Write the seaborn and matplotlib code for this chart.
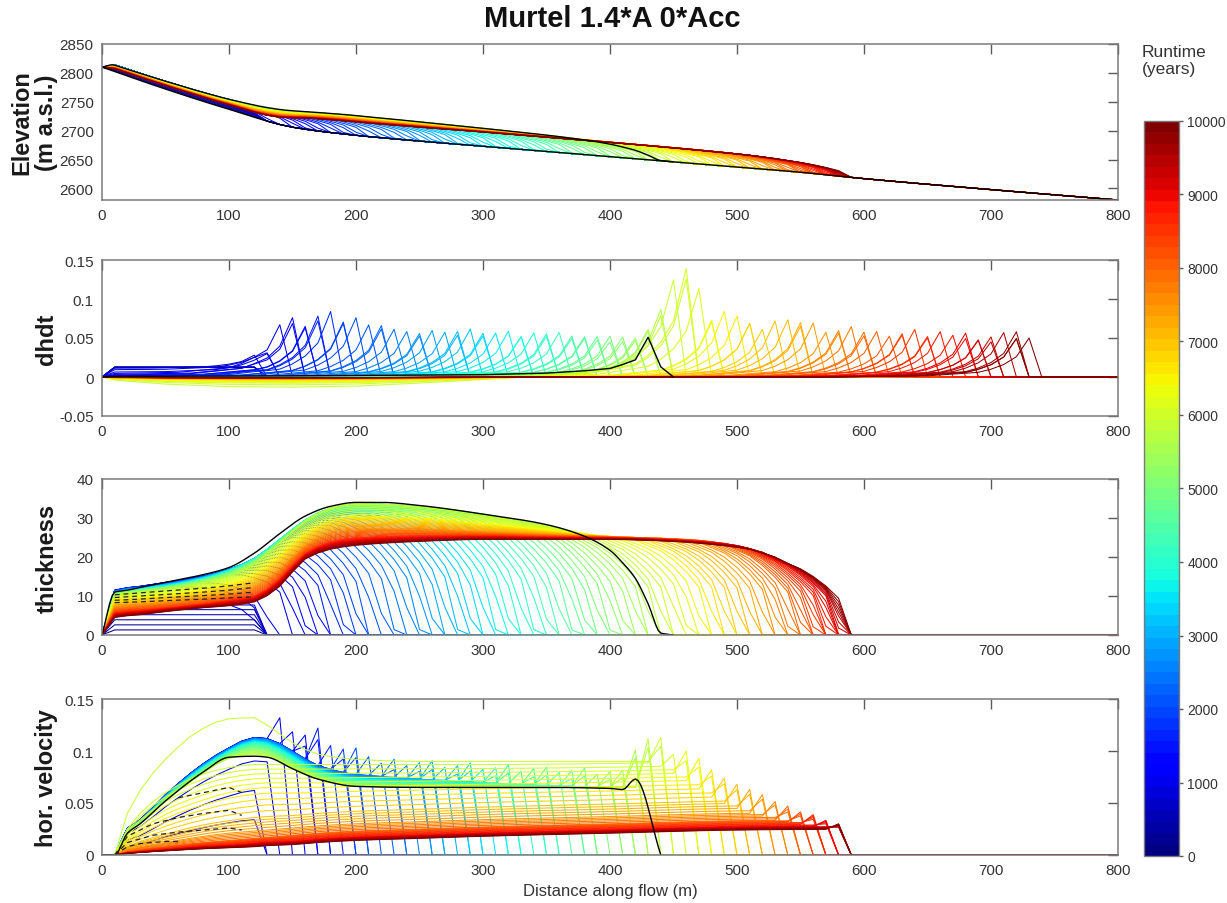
import numpy as np
import pandas as pd
import matplotlib
matplotlib.use("Agg")
import matplotlib.pyplot as plt
import seaborn as sns
from matplotlib.colors import Normalize
from matplotlib.cm import ScalarMappable

# ----------------------------------------------------------------------
# Model grid (10 m spacing) and the 100 output times of the run
# ----------------------------------------------------------------------
x_nodes = np.arange(0, 801, 10)
run_times = np.arange(100, 10001, 100)

# Bedrock profile
bed_x = [0, 50, 100, 150, 200, 250, 300, 350, 400, 450, 500, 550, 600, 700, 800]
bed_z = [2810, 2772, 2737, 2706, 2692, 2682, 2673, 2664, 2655, 2646, 2637, 2628, 2617, 2598, 2580]

# Initial build-up below the rock wall (no flow yet)
stack_times = [100, 200, 300, 400, 500, 600]
stack_thickness = [1.3, 2.6, 3.9, 5.2, 6.5, 7.7]

# Thickness behind the front at selected runtimes
thk_x = [0, 10, 30, 50, 80, 100, 120, 140, 160, 180, 200, 250, 300, 350, 400, 450, 500, 550, 600]
thk_times = [700, 800, 1000, 2000, 3000, 4000, 5000, 5800, 6500, 7500, 8500, 10000]
thk_700 = [0, 9.0, 9.3, 9.6, 10.0, 10.4, 11.0, 12.0, 14.0, 16.0, 18.0, 20.0, 22.0, 23.0, 23.5, 23.5, 23.5, 23.0, 23.0]
thk_800 = [0, 10.5, 11.2, 12.0, 13.2, 14.2, 15.5, 17.0, 19.5, 21.5, 23.0, 24.0, 24.5, 24.5, 24.5, 24.5, 24.5, 24.0, 24.0]
thk_1000 = [0, 11.5, 12.5, 13.5, 15.2, 16.8, 18.8, 22.0, 23.0, 23.5, 24.0, 24.5, 24.5, 24.5, 24.5, 24.5, 24.5, 24.0, 24.0]
thk_2000 = [0, 11.3, 12.3, 13.2, 15.0, 16.9, 19.3, 24.0, 27.0, 28.0, 27.5, 26.0, 25.0, 24.5, 24.5, 24.5, 24.5, 24.0, 24.0]
thk_3000 = [0, 11.0, 12.0, 12.9, 14.8, 16.8, 19.7, 24.5, 29.0, 31.0, 31.0, 29.5, 27.0, 25.5, 24.5, 24.5, 24.5, 24.0, 24.0]
thk_4000 = [0, 10.7, 11.7, 12.5, 14.4, 16.4, 19.5, 24.5, 29.5, 32.5, 33.0, 32.0, 29.5, 26.5, 24.5, 24.5, 24.5, 24.0, 24.0]
thk_5000 = [0, 10.5, 11.4, 12.2, 14.0, 15.8, 19.0, 24.0, 29.3, 32.5, 33.7, 33.0, 31.0, 28.0, 25.0, 24.5, 24.5, 24.0, 24.0]
thk_5800 = [0, 10.3, 11.0, 11.7, 13.3, 14.9, 18.0, 23.5, 29.0, 32.5, 33.6, 32.8, 30.7, 28.0, 25.5, 24.5, 24.5, 24.0, 24.0]
thk_6500 = [0, 9.0, 9.6, 10.2, 11.6, 13.0, 15.5, 20.5, 26.0, 29.5, 30.5, 30.0, 28.5, 26.8, 25.3, 24.7, 24.5, 24.0, 24.0]
thk_7500 = [0, 7.2, 7.8, 8.4, 9.6, 10.6, 12.5, 17.0, 23.0, 26.5, 27.5, 27.3, 26.5, 25.8, 25.2, 24.7, 24.0, 22.5, 22.0]
thk_8500 = [0, 5.8, 6.4, 7.0, 8.0, 9.0, 10.0, 14.5, 21.0, 24.0, 25.0, 25.5, 25.5, 25.2, 25.0, 24.5, 23.3, 21.0, 20.5]
thk_10000 = [0, 4.5, 5.2, 6.0, 7.0, 7.5, 8.5, 12.5, 19.5, 22.0, 23.0, 24.0, 24.5, 24.5, 24.5, 24.0, 22.5, 19.5, 18.5]

# Front position (end of ice) through time
front_times = [600, 700, 800, 900, 1000, 1500, 2000, 2500, 3000, 3500, 4000, 4500,
               5000, 5500, 6000, 6500, 7000, 7500, 8000, 8500, 9000, 9500, 10000]
front_pos = [126, 127, 129, 135, 150, 180, 210, 245, 275, 305, 335, 365,
             395, 425, 450, 480, 505, 530, 550, 565, 577, 585, 590]
# Fraction of full thickness vs. distance behind the front
taper_dist = [0, 10, 20, 30, 40, 60, 80]
taper_frac = [0, 0.5, 0.66, 0.78, 0.87, 0.97, 1.0]

# Horizontal velocity at selected runtimes
vel_x = [0, 10, 20, 30, 50, 80, 100, 120, 130, 150, 170, 200, 250, 300, 400, 500, 600]
vel_times = [1000, 2500, 4000, 5000, 5800, 5900, 6000, 6500, 7000, 7500, 8000, 9000, 10000]
vel_1000 = [0, 0, .026, .034, .058, .088, .103, .113, .112, .100, .087, .079, .076, .075, .073, .072, .072]
vel_2500 = [0, 0, .025, .033, .057, .087, .102, .112, .111, .099, .085, .077, .074, .073, .071, .071, .071]
vel_4000 = [0, 0, .024, .032, .055, .084, .099, .108, .106, .093, .080, .072, .070, .069, .068, .068, .068]
vel_5000 = [0, 0, .023, .031, .054, .081, .096, .103, .101, .088, .076, .068, .067, .066, .066, .066, .066]
vel_5800 = [0, 0, .021, .030, .052, .079, .093, .097, .095, .083, .073, .066, .065, .065, .065, .065, .065]
vel_5900 = [0, 0, .040, .062, .092, .122, .131, .132, .125, .108, .097, .092, .090, .090, .090, .090, .090]
vel_6000 = [0, 0, .025, .040, .060, .078, .084, .087, .087, .087, .087, .087, .087, .087, .088, .090, .090]
vel_6500 = [0, 0, .015, .024, .039, .053, .060, .064, .065, .065, .065, .066, .067, .068, .070, .072, .072]
vel_7000 = [0, 0, .008, .013, .020, .029, .033, .036, .037, .038, .040, .042, .044, .046, .049, .052, .053]
vel_7500 = [0, 0, .005, .008, .012, .018, .021, .023, .024, .026, .028, .030, .032, .034, .037, .040, .041]
vel_8000 = [0, 0, .003, .005, .008, .012, .014, .016, .017, .019, .021, .023, .025, .027, .030, .033, .034]
vel_9000 = [0, 0, .002, .003, .005, .008, .009, .011, .012, .013, .015, .017, .019, .021, .024, .027, .028]
vel_10000 = [0, 0, .0015, .0025, .004, .006, .007, .008, .009, .010, .012, .014, .016, .018, .021, .024, .025]
# onset of flow
ramp_times = [600, 700, 800, 900, 1000]
ramp_factor = [0.0, 0.3, 0.55, 0.8, 1.0]
# velocity at the front node
spike_x = list(range(120, 591, 10))
spike_v = [.095, .110, .132, .126, .119, .122, .112, .105, .103, .099,
           .097, .095, .093, .093, .092, .091, .090, .090, .089, .088,
           .088, .087, .087, .086, .086, .085, .085, .084, .084, .083,
           .101, .112, .113, .103, .103, .093, .082, .074, .068, .063,
           .058, .053, .047, .042, .039, .034, .030, .025]

# dh/dt: front peak position and height
dh_front_times = [700, 800, 900, 1000, 1500, 2000, 2500, 3000, 3500, 4000, 4500,
                  5000, 5500, 6000, 6500, 7000, 7500, 8000, 8500, 9000, 9500, 10000]
dh_front_pos = [125, 128, 133, 140, 168, 200, 238, 275, 312, 348, 378,
                405, 428, 455, 490, 530, 568, 605, 640, 675, 705, 730]
peak_x = list(range(120, 731, 10))
peak_h = [0.020, 0.033, 0.067, 0.079, 0.070, 0.083, 0.086, 0.077, 0.076, 0.072,
          0.072, 0.062, 0.062, 0.061, 0.060, 0.062, 0.063, 0.062, 0.061, 0.060,
          0.060, 0.058, 0.058, 0.059, 0.057, 0.056, 0.055, 0.054, 0.053, 0.052,
          0.052, 0.065, 0.090, 0.126, 0.148, 0.117, 0.080, 0.084, 0.083, 0.078,
          0.065, 0.072, 0.079, 0.076, 0.070, 0.061, 0.065, 0.065, 0.062, 0.062,
          0.054, 0.061, 0.061, 0.057, 0.060, 0.057, 0.058, 0.052, 0.053, 0.057,
          0.058, 0.050]
peak_shape_d = [-150, -80, -40, -30, -20, -10, 0, 10]
peak_shape_s = [0, 0.03, 0.12, 0.2, 0.32, 0.52, 1.0, 0]
# upstream thickening / thinning rate
base_times = [100, 600, 700, 800, 900, 1000, 1200, 1500, 2000, 3000, 5000, 5800,
              5900, 6000, 6100, 6300, 6600, 7000, 8000, 10000]
base_rate = [0.0125, 0.0125, 0.011, 0.009, 0.006, 0.004, 0.002, 0.001, 0.0, 0.0, -0.0008, -0.0015,
             -0.013, -0.010, -0.008, -0.006, -0.004, -0.003, -0.0015, -0.0008]
grow_x = [0, 10, 120, 130]
grow_w = [0, 1, 1, 0]
thin_x = [0, 10, 50, 100, 150, 200, 250, 300, 350]
thin_w = [0, 0.3, 0.7, 0.95, 1.0, 0.9, 0.6, 0.25, 0]

# Present-day (observed) profiles
obs_x = [0, 10, 20, 30, 50, 80, 100, 120, 140, 160, 180, 200, 220, 250, 300, 350,
         380, 400, 410, 420, 430, 440, 450]
obs_thk = [0, 11.0, 11.5, 12.2, 13.5, 15.5, 17.3, 21.0, 26.0, 30.5, 33.0, 34.0, 34.0, 33.2, 31.0, 28.3,
           25.3, 21.7, 18.5, 14.5, 8.0, 0.5, 0]
obs_dh_x = [0, 10, 50, 100, 150, 200, 250, 300, 350, 380, 400, 410, 420, 430, 440, 450]
obs_dh = [0, 0.001, 0.001, 0.0012, 0.0015, 0.002, 0.0025, 0.003, 0.005, 0.008, 0.011, 0.016,
          0.022, 0.051, 0.013, 0]
obs_v_x = [0, 10, 20, 30, 50, 80, 100, 120, 130, 150, 170, 200, 250, 300, 350, 400, 410, 420, 440]
obs_v = [0, 0, .021, .030, .052, .080, .094, .095, .094, .083, .073, .066, .065, .065, .065, .064,
         .063, .073, 0]

# Transitional runs (dashed)
dash_thk_x = [10, 30, 50, 80, 100, 120]
dash_thk = [[8.3, 8.5, 8.8, 9.2, 9.5, 9.8],
            [8.9, 9.2, 9.6, 10.1, 10.5, 11.0],
            [9.6, 10.0, 10.4, 11.0, 11.5, 12.2],
            [10.3, 10.8, 11.3, 12.0, 12.6, 13.4]]
dash_v_x = [[10, 20, 30, 40, 50, 60],
            [10, 20, 40, 60, 80, 100, 110],
            [10, 20, 40, 60, 80, 100, 110],
            [60, 80, 100, 110]]
dash_v = [[0, 0.008, 0.011, 0.012, 0.013, 0.013],
          [0, 0.012, 0.019, 0.022, 0.024, 0.026, 0.024],
          [0, 0.018, 0.030, 0.036, 0.040, 0.043, 0.038],
          [0.055, 0.060, 0.065, 0.060]]


# ----------------------------------------------------------------------
# Helpers: monotone cubic (PCHIP) through the read points
# ----------------------------------------------------------------------
def pchip(xp, fp, xq):
    xp = np.asarray(xp, float)
    fp = np.asarray(fp, float)
    xq = np.clip(np.asarray(xq, float), xp[0], xp[-1])
    h = np.diff(xp)
    delta = np.diff(fp) / h
    n = len(xp)
    d = np.zeros(n)
    d[0], d[-1] = delta[0], delta[-1]
    for k in range(1, n - 1):
        if delta[k - 1] * delta[k] > 0:
            w1 = 2 * h[k] + h[k - 1]
            w2 = h[k] + 2 * h[k - 1]
            d[k] = (w1 + w2) / (w1 / delta[k - 1] + w2 / delta[k])
    idx = np.clip(np.searchsorted(xp, xq, side="right") - 1, 0, n - 2)
    s = (xq - xp[idx]) / h[idx]
    h00 = 2 * s ** 3 - 3 * s ** 2 + 1
    h10 = s ** 3 - 2 * s ** 2 + s
    h01 = -2 * s ** 3 + 3 * s ** 2
    h11 = s ** 3 - s ** 2
    return h00 * fp[idx] + h10 * h[idx] * d[idx] + h01 * fp[idx + 1] + h11 * h[idx] * d[idx + 1]


def on_grid(xp, fp):
    return pchip(xp, fp, x_nodes)


def blend(t, key_times, table):
    return np.array([np.interp(t, key_times, table[:, j]) for j in range(table.shape[1])])


bed_grid = on_grid(bed_x, bed_z)
thk_table = np.array([on_grid(thk_x, p) for p in
                      [thk_700, thk_800, thk_1000, thk_2000, thk_3000, thk_4000, thk_5000,
                       thk_5800, thk_6500, thk_7500, thk_8500, thk_10000]])
vel_table = np.array([on_grid(vel_x, p) for p in
                      [vel_1000, vel_2500, vel_4000, vel_5000, vel_5800, vel_5900, vel_6000,
                       vel_6500, vel_7000, vel_7500, vel_8000, vel_9000, vel_10000]])


def thickness_profile(t):
    if t <= stack_times[-1]:
        lvl = np.interp(t, stack_times, stack_thickness)
        return np.where((x_nodes >= 10) & (x_nodes <= 120), lvl, 0.0)
    s = blend(t, thk_times, thk_table)
    f = np.interp(t, front_times, front_pos)
    frac = np.interp(f - x_nodes, taper_dist, taper_frac, left=0.0, right=1.0)
    return s * frac


def velocity_profile(t):
    v = np.zeros(len(x_nodes))
    if t <= stack_times[-1]:
        return v
    if t < vel_times[0]:
        k = np.interp(t, ramp_times, ramp_factor)
        base = k * vel_table[0]
    else:
        k = 1.0
        base = blend(t, vel_times, vel_table)
    f = np.interp(t, front_times, front_pos)
    inside = x_nodes < f
    v[inside] = base[inside]
    last = x_nodes[inside][-1]
    w = 0.85 + 0.15 * (f - last) / 10.0
    i = int(last // 10)
    v[i] = max(v[i], k * w * np.interp(last, spike_x, spike_v))
    return v


def dhdt_profile(t):
    rate = np.interp(t, base_times, base_rate)
    shape = np.interp(x_nodes, grow_x, grow_w) if rate > 0 else np.interp(x_nodes, thin_x, thin_w)
    d = rate * shape
    if t > stack_times[-1]:
        f = np.interp(t, dh_front_times, dh_front_pos)
        node = np.round(f / 10.0) * 10.0
        w = 1.0 - 0.15 * abs(f - node) / 5.0
        h = np.interp(node, peak_x, peak_h) * w
        d = d + h * np.interp(x_nodes - node, peak_shape_d, peak_shape_s, left=0.0, right=0.0)
    return d


frames = []
for t in run_times:
    h = thickness_profile(t)
    frames.append(pd.DataFrame({
        "x": x_nodes, "t": t,
        "elev": bed_grid + h,
        "dhdt": dhdt_profile(t),
        "thick": h,
        "vel": velocity_profile(t),
    }))
runs = pd.concat(frames, ignore_index=True)

# observed profiles on a fine grid
obs_fine = np.arange(0, 451, 2)
obs_thk_fine = np.clip(pchip(obs_x, obs_thk, obs_fine), 0, None)
obs_v_fine = np.arange(0, 441, 2)
obs_vel_fine = np.clip(pchip(obs_v_x, obs_v, obs_v_fine), 0, None)

# ----------------------------------------------------------------------
# Figure
# ----------------------------------------------------------------------
sns.set_theme(style="white")
plt.rcParams["font.family"] = ["Liberation Sans", "DejaVu Sans"]

W, H = 1227, 904
fig = plt.figure(figsize=(W / 100, H / 100), dpi=100)
left_px, right_px = 102, 1118
tops = [45, 261, 480, 700]
hgt = 156
axes = [fig.add_axes([left_px / W, 1 - (tp + hgt) / H, (right_px - left_px) / W, hgt / H])
        for tp in tops]

jet = plt.get_cmap("jet")
norm = Normalize(0, 10000)
cols = ["elev", "dhdt", "thick", "vel"]
for ax, col in zip(axes, cols):
    sns.lineplot(data=runs, x="x", y=col, hue="t", palette=jet, hue_norm=norm,
                 estimator=None, sort=False, legend=False, linewidth=0.75, ax=ax)

# observed profiles and bed
axes[0].plot(obs_fine, pchip(bed_x, bed_z, obs_fine) + obs_thk_fine, color="black", lw=1.0)
axes[0].plot(x_nodes, bed_grid, color="black", lw=1.0)
axes[1].plot(obs_dh_x, obs_dh, color="black", lw=1.0)
axes[2].plot(obs_fine, obs_thk_fine, color="black", lw=1.0)
axes[3].plot(obs_v_fine, obs_vel_fine, color="black", lw=1.0)
for prof in dash_thk:
    axes[2].plot(dash_thk_x, prof, color="#222222", lw=0.9, ls=(0, (4, 3)))
for xs, vs in zip(dash_v_x, dash_v):
    axes[3].plot(xs, vs, color="#222222", lw=0.9, ls=(0, (4, 3)))

ylims = [(2580, 2850), (-0.05, 0.15), (0, 40), (0, 0.15)]
yticks = [list(range(2600, 2851, 50)), [-0.05, 0, 0.05, 0.1, 0.15], [0, 10, 20, 30, 40], [0, 0.05, 0.1, 0.15]]
ytlabels = [[str(v) for v in range(2600, 2851, 50)], ["-0.05", "0", "0.05", "0.1", "0.15"],
            ["0", "10", "20", "30", "40"], ["0", "0.05", "0.1", "0.15"]]
ylabels = ["Elevation\n(m a.s.l.)", "dhdt", "thickness", "hor. velocity"]

for ax, yl, yt, ytl, lab in zip(axes, ylims, yticks, ytlabels, ylabels):
    ax.set_xlim(0, 800)
    ax.set_ylim(*yl)
    ax.set_xticks(range(0, 801, 100))
    ax.set_xticklabels([str(v) for v in range(0, 801, 100)])
    ax.set_yticks(yt)
    ax.set_yticklabels(ytl)
    ax.tick_params(direction="in", length=7, width=1.0, top=True, right=True,
                   colors="#5a5a5a", labelcolor="#333333", labelsize=11, pad=6)
    for sp in ax.spines.values():
        sp.set_color("#7a7a7a")
        sp.set_linewidth(1.1)
    ax.set_xlabel("")
    ax.set_ylabel(lab, fontsize=17, fontweight="bold", color="#1a1a1a", linespacing=1.1)
    ax.yaxis.set_label_coords(-0.043, 0.5)

axes[3].set_xlabel("Distance along flow (m)", fontsize=12, color="#333333", labelpad=4)

fig.text(612 / W, 1 - 19 / H, "Murtel 1.4*A 0*Acc", ha="center", va="center",
         fontsize=21, fontweight="bold", color="#111111")

# colour scale for runtime
cax = fig.add_axes([1144 / W, 1 - 857 / H, 35 / W, (857 - 122) / H])
sm = ScalarMappable(norm=norm, cmap=plt.get_cmap("jet", 64))
cb = fig.colorbar(sm, cax=cax, ticks=np.arange(0, 10001, 1000))
cb.ax.set_yticklabels([str(v) for v in range(0, 10001, 1000)])
cb.outline.set_edgecolor("#7a7a7a")
cb.outline.set_linewidth(1.0)
cax.tick_params(direction="out", length=3, width=1.0, colors="#5a5a5a",
                labelcolor="#333333", labelsize=10, pad=3)
fig.text(1142 / W, 1 - 61 / H, "Runtime\n(years)", ha="left", va="center",
         fontsize=12.5, color="#333333", linespacing=1.15)

fig.savefig("out.png", dpi=100)
